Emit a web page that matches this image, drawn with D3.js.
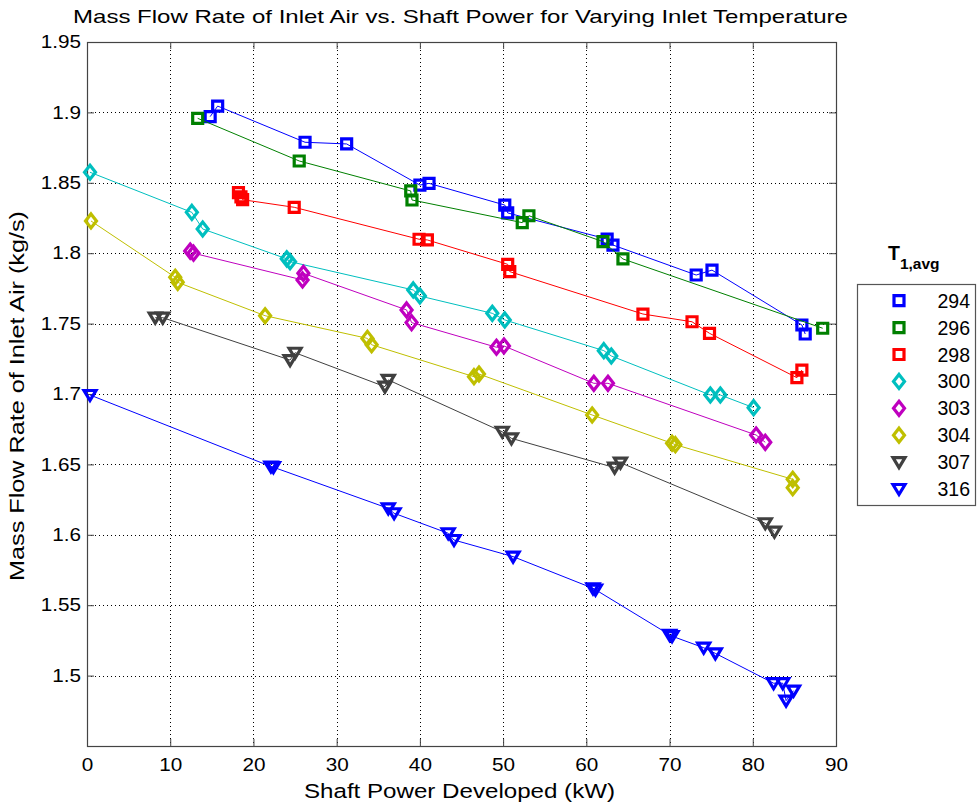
<!DOCTYPE html>
<html>
<head>
<meta charset="utf-8">
<script src="https://cdn.jsdelivr.net/npm/d3@7"></script>
<style>
  body { margin: 0; background: #fff; }
  svg { display: block; font-family: "Liberation Sans", Arial, sans-serif; }
</style>
</head>
<body>
<div id="chart"></div>
<script>
// Mass flow rate vs shaft power, one series per inlet temperature

const temps = ['294', '296', '298', '300', '303', '304', '307', '316'];
const colors = ['#0000ff', '#008000', '#ff0000', '#00bfbf', '#bf00bf', '#bfbf00', '#404040', '#0000ff'];
const shapes = ['square', 'square', 'square', 'diamond', 'diamond', 'diamond', 'triangle', 'triangle'];

// shaft power (kW) and mass flow (kg/s) for each series
const power294 = [14.8, 15.7, 26.2, 31.2, 40.0, 41.1, 50.2, 50.55, 62.5, 63.2, 73.2, 75.1, 85.9, 86.3];
const flow294  = [1.897, 1.9045, 1.8788, 1.8776, 1.8484, 1.8496, 1.8342, 1.8286, 1.810, 1.8058, 1.7845, 1.788, 1.749, 1.7426];

const power296 = [13.3, 25.5, 38.9, 39.05, 52.3, 53.1, 62.0, 64.4, 88.4];
const flow296  = [1.8958, 1.8655, 1.8442, 1.8378, 1.8217, 1.8266, 1.8082, 1.7959, 1.7467];

const power298 = [18.2, 18.5, 18.7, 24.9, 39.9, 40.9, 50.55, 50.8, 66.8, 72.7, 74.8, 85.3, 85.9];
const flow298  = [1.843, 1.840, 1.838, 1.8326, 1.8099, 1.8094, 1.7921, 1.7869, 1.7568, 1.7513, 1.7431, 1.7116, 1.717];

const power300 = [0.36, 12.6, 13.9, 24.0, 24.4, 39.2, 40.0, 48.7, 50.2, 62.1, 63.0, 74.9, 76.1, 80.1];
const flow300  = [1.8575, 1.829, 1.8172, 1.796, 1.794, 1.7739, 1.7696, 1.7573, 1.7526, 1.7308, 1.727, 1.6993, 1.6993, 1.6903];

const power303 = [12.4, 12.8, 25.9, 26.0, 38.4, 39.0, 49.2, 50.1, 60.9, 62.6, 80.4, 81.5];
const flow303  = [1.8015, 1.800, 1.781, 1.7857, 1.7597, 1.7507, 1.7332, 1.7341, 1.7076, 1.7076, 1.6709, 1.6657];

const power304 = [0.48, 10.6, 10.9, 21.4, 33.7, 34.2, 46.5, 47.1, 60.7, 70.3, 70.7, 84.8, 84.8];
const flow304  = [1.8229, 1.7829, 1.7793, 1.7556, 1.7395, 1.735, 1.7123, 1.7142, 1.6851, 1.665, 1.664, 1.6394, 1.6335];

const power307 = [8.2, 9.1, 24.4, 25.0, 35.8, 36.2, 49.9, 51.0, 63.4, 64.1, 81.5, 82.6];
const flow307  = [1.7542, 1.7542, 1.7241, 1.7293, 1.7052, 1.710, 1.6732, 1.6685, 1.6477, 1.6512, 1.6082, 1.6022];

const power316 = [0.36, 22.1, 22.4, 36.2, 36.9, 43.4, 44.1, 51.2, 60.8, 61.1, 70.0, 70.3, 74.1, 75.5, 82.5, 83.6, 84.0, 84.9];
const flow316  = [1.6993, 1.6485, 1.648, 1.6188, 1.6153, 1.6011, 1.5963, 1.5845, 1.562, 1.561, 1.529, 1.528, 1.5198, 1.5158, 1.4946, 1.4946, 1.4822, 1.4893];

const powers = [power294, power296, power298, power300, power303, power304, power307, power316];
const flows = [flow294, flow296, flow298, flow300, flow303, flow304, flow307, flow316];

const xTicks = d3.range(0, 91, 10);
const yTicks = [1.5, 1.55, 1.6, 1.65, 1.7, 1.75, 1.8, 1.85, 1.9, 1.95];

const W = 977, H = 808;
const plot = { left: 87, right: 836, top: 42, bottom: 746 };

const svg = d3.select('#chart').append('svg')
    .attr('width', W)
    .attr('height', H);

const x = d3.scaleLinear().domain([0, 90]).range([plot.left, plot.right]);
const y = d3.scaleLinear().domain([1.45, 1.95]).range([plot.bottom, plot.top]);

// grid
const grid = svg.append('g').attr('stroke', '#000').attr('stroke-width', 1)
    .attr('stroke-dasharray', '1,3').attr('shape-rendering', 'crispEdges');
grid.selectAll('.gx').data(xTicks.slice(1, -1)).enter().append('line')
    .attr('x1', d => Math.round(x(d)) + 0.5).attr('x2', d => Math.round(x(d)) + 0.5)
    .attr('y1', plot.top).attr('y2', plot.bottom);
grid.selectAll('.gy').data(yTicks.slice(0, -1)).enter().append('line')
    .attr('y1', d => Math.round(y(d)) + 0.5).attr('y2', d => Math.round(y(d)) + 0.5)
    .attr('x1', plot.left).attr('x2', plot.right);

// axes: ticks inward, on all four sides
const tickLen = 7;
const axisColor = '#444';
svg.append('g')
    .attr('transform', `translate(0,${plot.bottom})`)
    .call(d3.axisBottom(x).tickValues(xTicks).tickSize(-tickLen).tickPadding(12))
    .call(g => g.select('.domain').remove());
svg.append('g')
    .attr('transform', `translate(0,${plot.top})`)
    .call(d3.axisTop(x).tickValues(xTicks).tickSize(-tickLen).tickFormat(''))
    .call(g => g.select('.domain').remove());
svg.append('g')
    .attr('transform', `translate(${plot.left},0)`)
    .call(d3.axisLeft(y).tickValues(yTicks).tickSize(-tickLen).tickPadding(6).tickFormat(d3.format('~g')))
    .call(g => g.select('.domain').remove());
svg.append('g')
    .attr('transform', `translate(${plot.right},0)`)
    .call(d3.axisRight(y).tickValues(yTicks).tickSize(-tickLen).tickFormat(''))
    .call(g => g.select('.domain').remove());

svg.selectAll('.tick line').attr('stroke', axisColor);
svg.selectAll('.tick text')
    .style('font-size', '18px')
    .style('font-family', '"Liberation Sans", Arial, sans-serif')
    .attr('fill', '#000')
    .each(function() {
        // the original renders its labels wider than Arial
        const w = this.getComputedTextLength();
        if (w > 0) d3.select(this).attr('textLength', w * 1.15).attr('lengthAdjust', 'spacingAndGlyphs');
    });

svg.append('rect')
    .attr('x', plot.left + 0.5).attr('y', plot.top + 0.5)
    .attr('width', plot.right - plot.left).attr('height', plot.bottom - plot.top)
    .attr('fill', 'none').attr('stroke', axisColor).attr('stroke-width', 1.2);

// markers
function markerPath(shape) {
    if (shape === 'square') return 'M-5,-5H5V5H-5Z';
    if (shape === 'diamond') return 'M0,-7L5.5,0L0,7L-5.5,0Z';
    return 'M-6,-4.5H6L0,5.5Z';
}

const line = d3.line().x(d => x(d[0])).y(d => y(d[1]));

temps.forEach((t, i) => {
    const pts = powers[i].map((p, j) => [p, flows[i][j]]);
    const sorted = pts.slice().sort((a, b) => a[0] - b[0]);
    const g = svg.append('g');
    g.append('path')
        .datum(sorted)
        .attr('d', line)
        .attr('fill', 'none')
        .attr('stroke', colors[i])
        .attr('stroke-width', 1);
    g.selectAll('path.mk').data(pts).enter().append('path')
        .attr('class', 'mk')
        .attr('d', markerPath(shapes[i]))
        .attr('transform', d => `translate(${x(d[0])},${y(d[1])})`)
        .attr('fill', 'none')
        .attr('stroke', colors[i])
        .attr('stroke-width', 3.2)
        .attr('stroke-linejoin', 'miter');
});

// titles
svg.append('text')
    .attr('x', 73).attr('y', 23)
    .attr('textLength', 775).attr('lengthAdjust', 'spacingAndGlyphs')
    .style('font-size', '19px')
    .text('Mass Flow Rate of Inlet Air vs. Shaft Power for Varying Inlet Temperature');

svg.append('text')
    .attr('x', 304).attr('y', 798)
    .attr('textLength', 311).attr('lengthAdjust', 'spacingAndGlyphs')
    .style('font-size', '20.5px')
    .text('Shaft Power Developed (kW)');

svg.append('text')
    .attr('transform', `translate(24,${396 + 185}) rotate(-90)`)
    .attr('textLength', 370).attr('lengthAdjust', 'spacingAndGlyphs')
    .style('font-size', '20.5px')
    .text('Mass Flow Rate of Inlet Air (kg/s)');

// legend
const legendTitle = svg.append('text')
    .attr('x', 888).attr('y', 260)
    .style('font-weight', 'bold')
    .style('font-size', '19.5px');
legendTitle.append('tspan').text('T');
legendTitle.append('tspan').attr('dy', 9).style('font-size', '15.5px').text('1,avg');

svg.append('rect')
    .attr('x', 857.5).attr('y', 284.5)
    .attr('width', 118).attr('height', 221)
    .attr('fill', '#fff').attr('stroke', '#555').attr('stroke-width', 1.2);

const legendRows = svg.append('g').selectAll('g').data(temps).enter().append('g')
    .attr('transform', (d, i) => `translate(0,${300.7 + i * 26.9})`);
legendRows.append('path')
    .attr('d', (d, i) => markerPath(shapes[i]))
    .attr('transform', 'translate(899,0)')
    .attr('fill', 'none')
    .attr('stroke', (d, i) => colors[i])
    .attr('stroke-width', 3.2);
legendRows.append('text')
    .attr('x', 970).attr('y', 7)
    .attr('text-anchor', 'end')
    .style('font-size', '19.5px')
    .text(d => d);
</script>
</body>
</html>
